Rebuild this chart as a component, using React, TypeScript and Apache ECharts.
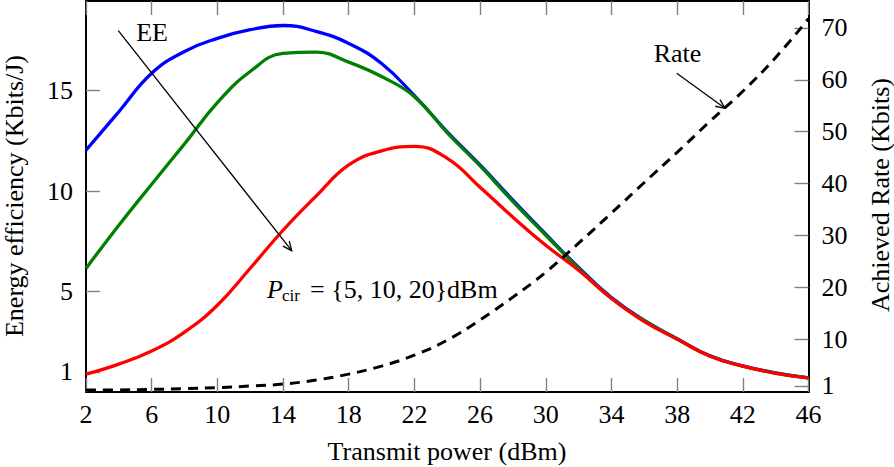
import React, { useEffect, useRef } from "react";
import * as echarts from "echarts";

// Transmit power (dBm)
const powerDbm = [2, 4, 6, 8, 10, 12, 14, 16, 18, 20, 22, 24, 26, 28, 30, 32, 34, 36, 38, 40, 42, 44, 46];
// Energy efficiency (Kbits/J) for P_cir = 5, 10, 20 dBm
const eeBlue = [12.03, 13.95, 15.86, 16.95, 17.6, 18.03, 18.24, 17.95, 17.35, 16.35, 14.75, 12.95, 11.3, 9.55, 7.85, 6.2, 4.7, 3.56, 2.65, 1.8, 1.3, 0.95, 0.7];
const eeGreen = [6.15, 8.3, 10.34, 12.35, 14.4, 15.95, 16.85, 16.92, 16.42, 15.7, 14.7, 12.9, 11.25, 9.48, 7.8, 6.15, 4.67, 3.55, 2.64, 1.79, 1.29, 0.94, 0.7];
const eeRed = [0.89, 1.39, 2.04, 2.98, 4.32, 6.16, 8.05, 9.74, 11.3, 12.0, 12.22, 11.63, 10.19, 8.7, 7.3, 6.06, 4.65, 3.5, 2.63, 1.78, 1.29, 0.93, 0.7];
// Achieved rate (Kbits)
const rate = [0.17, 0.2, 0.3, 0.46, 0.65, 0.95, 1.33, 2.1, 3.25, 4.8, 6.9, 9.8, 13.7, 18.1, 22.9, 28.5, 34.3, 40.2, 46.0, 52.0, 57.8, 64.3, 71.8];

const xTicks = [2, 6, 10, 14, 18, 22, 26, 30, 34, 38, 42, 46];
const leftTicks = [1, 5, 10, 15];
const rightTicks = [1, 10, 20, 30, 40, 50, 60, 70];

const FONT = '"Liberation Serif", "Times New Roman", serif';
const FS = 26;

function arrow(x1: number, y1: number, x2: number, y2: number) {
  const dx = x2 - x1, dy = y2 - y1;
  const L = Math.hypot(dx, dy);
  const vx = -dx / L, vy = -dy / L;
  const len = 10, a = 0.42;
  const rot = (s: number) => [
    x2 + len * (vx * Math.cos(s) - vy * Math.sin(s)),
    y2 + len * (vx * Math.sin(s) + vy * Math.cos(s)),
  ];
  return [
    { type: "line", shape: { x1, y1, x2, y2 }, style: { stroke: "#000", lineWidth: 1.3 }, z: 100 },
    {
      type: "polyline",
      shape: { points: [rot(a), [x2, y2], rot(-a)] },
      style: { stroke: "#000", lineWidth: 1.3, fill: null },
      z: 100,
    },
  ];
}

function txt(text: string, x: number, y: number, opts: any = {}) {
  return {
    type: "text",
    x,
    y,
    rotation: opts.rotation || 0,
    z: 100,
    style: {
      text,
      font: `${opts.italic ? "italic " : ""}${opts.size || FS}px ${FONT}`,
      fill: "#000",
      textAlign: opts.align || "center",
      align: opts.align || "center",
      textVerticalAlign: "middle",
      verticalAlign: "middle",
    },
  };
}

export default function App() {
  const ref = useRef<HTMLDivElement>(null);
  useEffect(() => {
    if (!ref.current) return;
    const chart = echarts.init(ref.current, undefined, { renderer: "svg" });
    const tickStyle = { color: "#808080", width: 1.4 };
    const axisLineStyle = { color: "#000", width: 2 };
    const labelStyle = { fontFamily: FONT, fontSize: FS, color: "#000" };
    const mk = (ys: number[]) => powerDbm.map((x, i) => [x, ys[i]]);
    const lineSeries = (name: string, ys: number[], color: string) => ({
      name,
      type: "line",
      xAxisIndex: 0,
      yAxisIndex: 0,
      data: mk(ys),
      smooth: 0.45,
      symbol: "none",
      lineStyle: { color, width: 3.3 },
    });
    chart.setOption({
      animation: false,
      backgroundColor: "#fff",
      grid: { left: 86, right: 85.5, top: 1, bottom: 75, containLabel: false },
      xAxis: [
        {
          type: "value",
          position: "bottom",
          min: 2,
          max: 46,
          axisLine: { show: true, onZero: false, lineStyle: axisLineStyle },
          axisTick: { show: true, inside: true, length: 14, customValues: xTicks, lineStyle: tickStyle },
          axisLabel: { show: true, customValues: xTicks, margin: 9, ...labelStyle },
          splitLine: { show: false },
        },
        {
          type: "value",
          position: "top",
          min: 2,
          max: 46,
          axisLine: { show: true, onZero: false, lineStyle: axisLineStyle },
          axisTick: { show: true, inside: true, length: 14, customValues: xTicks, lineStyle: tickStyle },
          axisLabel: { show: false },
          splitLine: { show: false },
        },
      ],
      yAxis: [
        {
          type: "value",
          position: "left",
          min: 0,
          max: 19.46,
          axisLine: { show: true, onZero: false, lineStyle: axisLineStyle },
          axisTick: { show: true, inside: true, length: 14, customValues: leftTicks, lineStyle: tickStyle },
          axisLabel: { show: true, customValues: leftTicks, margin: 13, ...labelStyle },
          splitLine: { show: false },
        },
        {
          type: "value",
          position: "right",
          min: -0.2,
          max: 75.2,
          axisLine: { show: true, onZero: false, lineStyle: axisLineStyle },
          axisTick: { show: true, inside: true, length: 14, customValues: rightTicks, lineStyle: tickStyle },
          axisLabel: { show: true, customValues: rightTicks, margin: 13, ...labelStyle },
          splitLine: { show: false },
        },
      ],
      series: [
        lineSeries("EE Pcir=5dBm", eeBlue, "#0000ff"),
        lineSeries("EE Pcir=10dBm", eeGreen, "#008000"),
        lineSeries("EE Pcir=20dBm", eeRed, "#ff0000"),
        {
          name: "Rate",
          type: "line",
          xAxisIndex: 0,
          yAxisIndex: 1,
          data: mk(rate),
          smooth: 0.45,
          symbol: "none",
          lineStyle: { color: "#000", width: 3, type: [10, 7] },
          z: 5,
        },
      ],
      graphic: [
        txt("Transmit power (dBm)", 447, 451),
        txt("Energy efficiency (Kbits/J)", 14, 196, { rotation: Math.PI / 2 }),
        txt("Achieved Rate (Kbits)", 880, 195, { rotation: Math.PI / 2 }),
        txt("EE", 152, 32),
        txt("Rate", 677.5, 53),
        txt("P", 267, 289, { italic: true, align: "left" }),
        txt("cir", 282, 295, { size: 17, align: "left" }),
        txt("= {5, 10, 20}dBm", 310, 289, { align: "left" }),
        ...arrow(118.3, 30.7, 291.7, 250.7),
        ...arrow(676.7, 73.3, 725, 108.3),
      ],
    });
    return () => chart.dispose();
  }, []);
  return (
    <div
      ref={ref}
      style={{ position: "fixed", left: 0, top: 0, width: 894, height: 467, background: "#fff" }}
    />
  );
}
